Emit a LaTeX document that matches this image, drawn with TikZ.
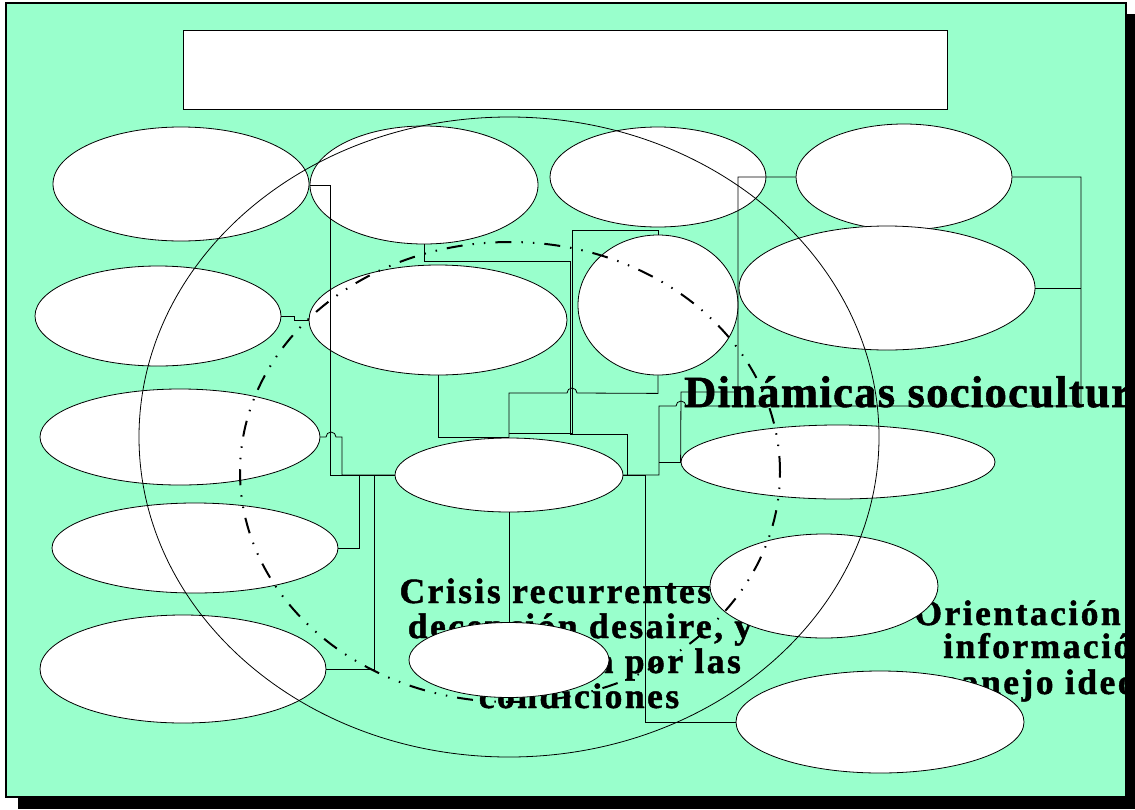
\documentclass[tikz,border=0pt]{standalone}
\usepackage{fontspec}
\setmainfont{Liberation Serif}
\newfontfamily\spacedserif[LetterSpace=7,BoldFeatures={FakeBold=1.3}]{Liberation Serif}
\newfontfamily\titleserif[LetterSpace=3,BoldFeatures={FakeBold=1.3}]{Liberation Serif}
\usetikzlibrary{shapes.geometric}
\definecolor{bg}{HTML}{99FFCC}
\begin{document}
\begin{tikzpicture}[x=1pt,y=-1pt,
  ell/.style={ellipse,draw,fill=white,inner sep=0pt,line width=0.8pt},
  conn/.style={line width=0.8pt},
  ring/.style={ellipse,draw,inner sep=0pt},
  txt/.style={font=\spacedserif\bfseries\fontsize{35.5}{35}\selectfont,anchor=base,inner sep=0pt}]
\useasboundingbox (0,0) rectangle (1135,809);
% frame with shadow
\fill[black] (18,14) rectangle (1135,809);
\filldraw[fill=bg,draw=black,line width=2pt] (6,3) rectangle (1126,797);
\node[draw,fill=white,inner sep=0pt,line width=0.8pt,minimum width=764pt,minimum height=79pt] (title) at (565,69.5) {};
% texts
\node[txt] (t1) at (580,603) {Crisis recurrentes de};
\node[txt] (t2) at (580,638) {decepción desaire, y};
\node[txt] (t3) at (580,673) {frustración por las};
\node[txt] (t4) at (579,708) {condiciones};
\node[txt] (o1) at (1063,625) {Orientación de la};
\node[txt] (o2) at (1063,658) {información y};
\node[txt] (o3) at (1084,694) {manejo ideológico};
\node[font=\titleserif\bfseries\fontsize{44.5}{44.5}\selectfont,anchor=base west,inner sep=0pt] (dyn) at (684,407) {Dinámicas socioculturales};
% ellipses
\node[ell,minimum width=256pt,minimum height=114pt] (e1) at (181,184) {};
\node[ell,minimum width=228pt,minimum height=118pt] (e2) at (424,185) {};
\node[ell,minimum width=216pt,minimum height=100pt] (e3) at (658,177) {};
\node[ell,minimum width=216pt,minimum height=106pt] (e4) at (904,177) {};
\node[ell,minimum width=246pt,minimum height=100pt] (e5) at (158,316) {};
\node[ell,minimum width=258pt,minimum height=110pt] (e6) at (438,320) {};
\node[ell,minimum width=160pt,minimum height=140pt] (e7) at (658,305) {};
\node[ell,minimum width=296pt,minimum height=124pt] (e8) at (887,288) {};
\node[ell,minimum width=280pt,minimum height=96pt] (e9) at (180,437) {};
\node[ell,minimum width=228pt,minimum height=74pt] (e10) at (509,475) {};
\node[ell,minimum width=314pt,minimum height=74pt] (e11) at (838,462) {};
\node[ell,minimum width=286pt,minimum height=90pt] (e12) at (195,548) {};
\node[ell,minimum width=228pt,minimum height=104pt] (e13) at (824,586) {};
\node[ell,minimum width=286pt,minimum height=108pt] (e14) at (183,669) {};
\node[ell,minimum width=288pt,minimum height=102pt] (e16) at (880,722) {};
% connectors
\draw[conn] (e2.west) -- ++(21,0) |- (e10.west);
\draw[conn] (e5.east) -- ++(13,0) |- (e6.west);
\draw[conn] (e9.east) -- (326,437) arc[start angle=180,end angle=0,radius=5pt] -- (342,437) |- (e10.west);
\draw[conn] (e12.east) -- ++(21,0) |- (e10.west);
\draw[conn] (e14.east) -- ++(48,0) |- (e10.west);
\draw[conn] (e6.south) |- (e10.north);
\draw[conn] (e7.south) -- ++(0,18) -- (577,393) arc[start angle=0,end angle=180,radius=5pt] -- (509,393) -- (e10.north);
\draw[conn] (e7.north) -- ++(0,-4) -| (572,433) -- (509,433);
\draw[conn] (e2.south) -- ++(0,17) -| (570,434) -- (627,434) -- (627,475) -- (e10.east);
\draw[conn] (e10.east) -- (645,475) |- (e13.west);
\draw[conn] (e10.east) -- (645,475) |- (e16.west);
\draw[conn] (e10.east) -- (659,475) -- (659,406) -- (676,406) arc[start angle=180,end angle=0,radius=5pt] -- (1081,406) |- (e4.east);
\draw[conn] (e8.east) -- (1081,288);
\draw[conn] (659,462) -- (e11.west);
\draw[conn] (e4.west) -- (738,177) |- (681,392) -- (e11.west);
\draw[conn] (e10.south) -- (509,623);
% rings
\node[ring,line width=0.8pt,minimum width=740pt,minimum height=640pt] (outer ring) at (509,437) {};
\node[ring,line width=2pt,dash pattern=on 16pt off 10pt on 1.5pt off 10pt on 1.5pt off 10pt,minimum width=540pt,minimum height=460pt] (inner ring) at (510,472) {};
\node[ell,minimum width=200pt,minimum height=75pt] (e15) at (509,660) {};
% shadow edge covering overflowing text
\fill[black] (1125,14) rectangle (1135,797);
\end{tikzpicture}
\end{document}
